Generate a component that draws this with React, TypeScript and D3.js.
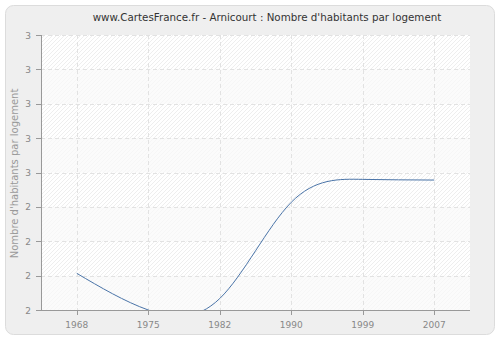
import { useEffect, useRef } from "react";
import * as d3 from "d3";

const years = ["1968", "1975", "1982", "1990", "1999", "2007"];
const values = [2.16, 2.0, 2.05, 2.47, 2.57, 2.567];
const yTicks = [2.0, 2.15, 2.3, 2.45, 2.6, 2.75, 2.9, 3.05, 3.2];

const App = () => {
  const ref = useRef<SVGSVGElement>(null);

  useEffect(() => {
    const svg = d3.select(ref.current);
    svg.selectAll("*").remove();
    const W = 500, H = 340;
    const m = { left: 41, right: 470, top: 35, bottom: 310 };
    const font = "DejaVu Sans, Verdana, sans-serif";

    // fond gris arrondi
    svg.append("rect").attr("width", W).attr("height", H).attr("fill", "#fff");
    svg.append("rect")
      .attr("x", 5.5).attr("y", 5.5).attr("width", 489).attr("height", 329)
      .attr("rx", 8).attr("fill", "#efefef").attr("stroke", "#dcdcdc");

    const defs = svg.append("defs");
    const pat = defs.append("pattern")
      .attr("id", "hatch").attr("patternUnits", "userSpaceOnUse")
      .attr("width", 4).attr("height", 4);
    pat.append("rect").attr("width", 4).attr("height", 4).attr("fill", "#fff");
    pat.append("path").attr("d", "M-1,1 l2,-2 M0,4 l4,-4 M3,5 l2,-2")
      .attr("stroke", "#eeeeee").attr("stroke-width", 1);
    defs.append("clipPath").attr("id", "clip").append("rect")
      .attr("x", m.left).attr("y", m.top).attr("width", m.right - m.left).attr("height", m.bottom - m.top);

    const x = d3.scalePoint<string>().domain(years).range([m.left, m.right]).padding(0.5);
    const y = d3.scaleLinear().domain([2.0, 3.2]).range([m.bottom, m.top]);

    svg.append("rect")
      .attr("x", m.left).attr("y", m.top).attr("width", m.right - m.left).attr("height", m.bottom - m.top)
      .attr("fill", "url(#hatch)");
    // bandes alternées
    for (let i = 0; i < yTicks.length - 1; i++) {
      if (i % 2 === 1) continue;
      svg.append("rect")
        .attr("x", m.left).attr("width", m.right - m.left)
        .attr("y", y(yTicks[i + 1])).attr("height", y(yTicks[i]) - y(yTicks[i + 1]))
        .attr("fill", "#fafafa").attr("fill-opacity", 0.7);
    }

    // grille
    svg.append("g").selectAll("line").data(yTicks.slice(1)).join("line")
      .attr("x1", m.left).attr("x2", m.right)
      .attr("y1", (d) => Math.round(y(d)) + 0.5).attr("y2", (d) => Math.round(y(d)) + 0.5)
      .attr("stroke", "#e2e2e2").attr("stroke-dasharray", "4,3");
    svg.append("g").selectAll("line").data(years).join("line")
      .attr("x1", (d) => Math.round(x(d)!) + 0.5).attr("x2", (d) => Math.round(x(d)!) + 0.5)
      .attr("y1", m.top).attr("y2", m.bottom)
      .attr("stroke", "#e2e2e2").attr("stroke-dasharray", "4,3");

    const line = d3.line<number>()
      .x((_, i) => x(years[i])!)
      .y((d) => y(d))
      .curve(d3.curveNatural);
    svg.append("path").datum(values)
      .attr("clip-path", "url(#clip)")
      .attr("fill", "none").attr("stroke", "#4a74a8").attr("stroke-width", 1)
      .attr("d", line);

    // axes
    const ax = svg.append("g").attr("font-family", font).attr("font-size", 9).attr("fill", "#888");
    ax.append("line").attr("x1", m.left + 0.5).attr("x2", m.left + 0.5).attr("y1", m.top).attr("y2", m.bottom + 0.5).attr("stroke", "#999");
    ax.append("line").attr("x1", m.left).attr("x2", m.right).attr("y1", m.bottom + 0.5).attr("y2", m.bottom + 0.5).attr("stroke", "#999");
    ax.selectAll(".yt").data(yTicks).join("line").attr("class", "yt")
      .attr("x1", m.left - 5).attr("x2", m.left).attr("y1", (d) => Math.round(y(d)) + 0.5).attr("y2", (d) => Math.round(y(d)) + 0.5)
      .attr("stroke", "#999");
    ax.selectAll(".yl").data(yTicks).join("text").attr("class", "yl")
      .attr("x", m.left - 10).attr("y", (d) => y(d) + 3.5).attr("text-anchor", "end")
      .text((d) => d3.format(".0f")(d));
    ax.selectAll(".xt").data(years).join("line").attr("class", "xt")
      .attr("x1", (d) => Math.round(x(d)!) + 0.5).attr("x2", (d) => Math.round(x(d)!) + 0.5)
      .attr("y1", m.bottom).attr("y2", m.bottom + 5).attr("stroke", "#999");
    ax.selectAll(".xl").data(years).join("text").attr("class", "xl")
      .attr("x", (d) => x(d)!).attr("y", m.bottom + 18).attr("text-anchor", "middle")
      .text((d) => d);

    svg.append("text")
      .attr("transform", `translate(18,${(m.top + m.bottom) / 2 + 1}) rotate(-90)`)
      .attr("text-anchor", "middle").attr("font-family", font)
      .attr("font-size", 10).attr("fill", "#999")
      .text("Nombre d'habitants par logement");

    svg.append("text")
      .attr("x", 267).attr("y", 21).attr("text-anchor", "middle")
      .attr("font-family", font).attr("font-size", 10.3).attr("fill", "#333")
      .text("www.CartesFrance.fr - Arnicourt : Nombre d'habitants par logement");
  }, []);

  return <svg ref={ref} width={500} height={340} style={{ position: "absolute", left: 0, top: 0 }} />;
};

export default App;
